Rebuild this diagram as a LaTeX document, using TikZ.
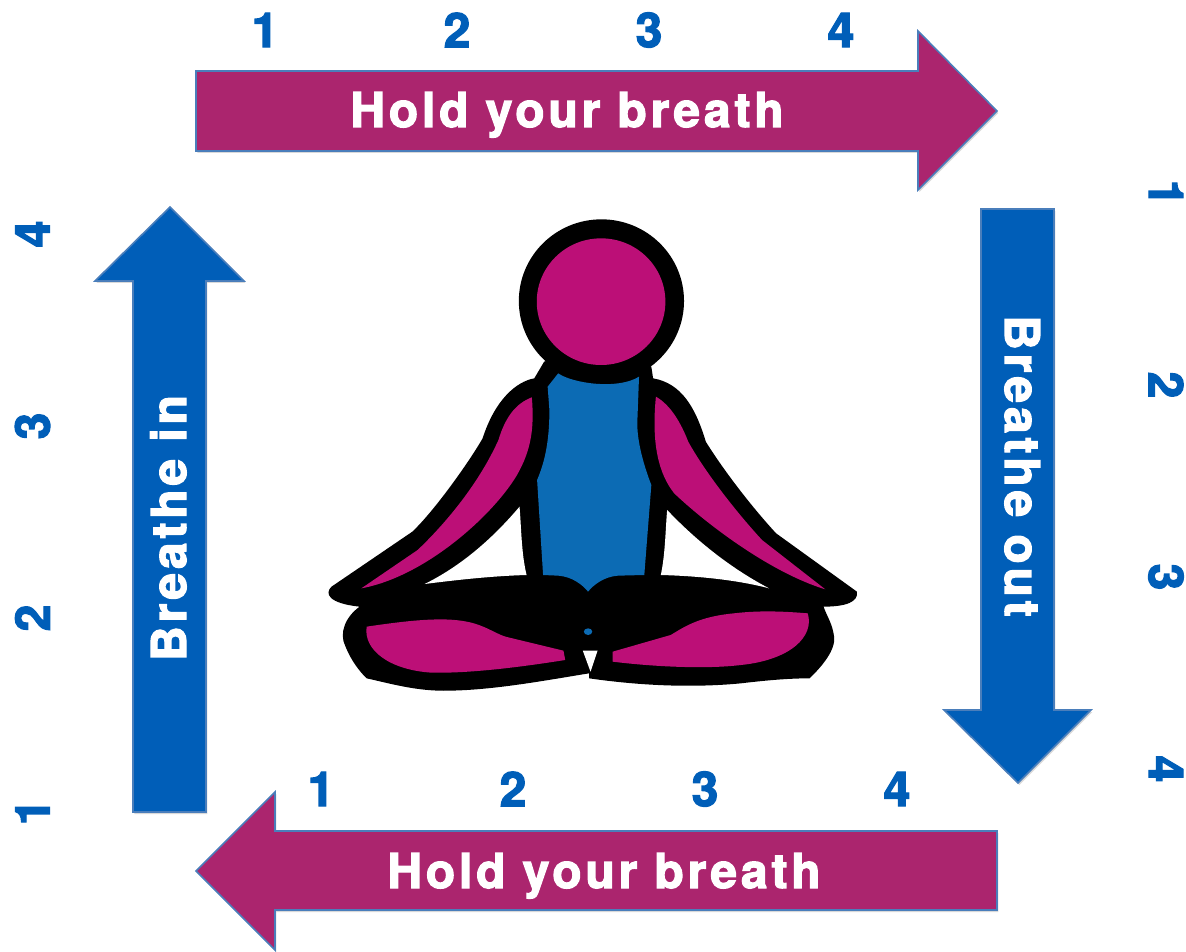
\documentclass[tikz,border=0pt]{standalone}
\usepackage{fontspec}
\setsansfont{TeX Gyre Heros}[LetterSpace=8, FakeBold=2.5]
\usetikzlibrary{shadows}
\definecolor{holdcol}{HTML}{AB256E}
\definecolor{breathecol}{HTML}{005EB8}
\definecolor{edgecol}{HTML}{4A7EBB}
\definecolor{limbcol}{HTML}{BC0F77}
\definecolor{torsocol}{HTML}{0C6BB4}
\tikzset{
  holdarrow/.style={fill=holdcol, draw=edgecol, line width=1.2pt, drop shadow={opacity=0.3, shadow xshift=1pt, shadow yshift=-1.5pt}},
  breathearrow/.style={holdarrow, fill=breathecol},
  arrowtext/.style={text=white, font=\sffamily\bfseries\fontsize{36}{36}\selectfont, inner sep=0pt, anchor=base},
  countnum/.style={text=breathecol, font=\sffamily\bfseries\fontsize{36}{36}\selectfont, inner sep=0pt},
  limb/.style={fill=limbcol},
  gap/.style={fill=white},
}
\begin{document}
\begin{tikzpicture}[x=0.75pt, y=-0.75pt]
    \useasboundingbox (0,0) rectangle (1186,952);

    % arrows
    \draw[holdarrow] (196,71) -- (918,71) -- (918,31) -- (997,111) -- (918,190) -- (918,151) -- (196,151) -- cycle;
    \draw[breathearrow] (981,209) -- (1054,209) -- (1054,710) -- (1091,710) -- (1018,783) -- (944,710) -- (981,710) -- cycle;
    \draw[holdarrow] (997,831) -- (997,910) -- (275,910) -- (275,950) -- (196,871) -- (275,792) -- (275,831) -- cycle;
    \draw[breathearrow] (133,812) -- (133,281) -- (95,281) -- (170,207) -- (244,281) -- (206,281) -- (206,812) -- cycle;

    \node[arrowtext] (holdtop) at (567,127) {Hold your breath};
    \node[arrowtext] (holdbottom) at (604,888) {Hold your breath};
    \node[arrowtext, rotate=90] (breathein) at (186,528) {Breathe in};
    \node[arrowtext, rotate=-90] (breatheout) at (1005,466) {Breathe out};

    % counts
    \node[countnum] (topa) at (265,30) {1};
    \node[countnum] (topb) at (457,30) {2};
    \node[countnum] (topc) at (649,30) {3};
    \node[countnum] (topd) at (841,30) {4};
    \node[countnum] (bota) at (321,789) {1};
    \node[countnum] (botb) at (513,789) {2};
    \node[countnum] (botc) at (705,789) {3};
    \node[countnum] (botd) at (897,789) {4};
    \node[countnum, rotate=-90] (righta) at (1166,193) {1};
    \node[countnum, rotate=-90] (rightb) at (1166,385) {2};
    \node[countnum, rotate=-90] (rightc) at (1166,577) {3};
    \node[countnum, rotate=-90] (rightd) at (1166,769) {4};
    \node[countnum, rotate=90] (leftd) at (32.5,234) {4};
    \node[countnum, rotate=90] (leftc) at (32.5,426) {3};
    \node[countnum, rotate=90] (leftb) at (32.5,618) {2};
    \begin{scope}
        \clip (0,700) rectangle (100,822);
        \node[countnum, rotate=90] (lefta) at (32.5,812) {1};
    \end{scope}

    % seated figure
    \begin{scope}[shift={(319.2,210)}, x=0.2636pt, y=-0.25pt]
        \fill[black] (803,273) ellipse [x radius=235, y radius=245];
        \fill[black] (640,455) -- (612,505) .. controls (560,515) and (500,570) .. (465,685) .. controls (430,750) and (330,900) .. (265,965) -- (35,1130) .. controls (15,1150) and (25,1180) .. (115,1190) .. controls (75,1220) and (55,1270) .. (75,1310) .. controls (90,1350) and (115,1385) .. (135,1405) .. controls (200,1420) and (280,1445) .. (370,1442) .. controls (500,1440) and (650,1410) .. (768,1390) -- (768,1405) .. controls (900,1425) and (1050,1435) .. (1200,1420) .. controls (1280,1410) and (1340,1405) .. (1395,1405) .. controls (1430,1370) and (1470,1320) .. (1465,1280) .. controls (1460,1240) and (1445,1220) .. (1435,1190) .. controls (1500,1190) and (1535,1175) .. (1530,1145) -- (1300,970) .. controls (1230,890) and (1150,780) .. (1100,695) .. controls (1070,590) and (1030,520) .. (950,505) -- (945,470) -- (800,400) -- cycle;
        % gaps
        \fill[gap] (570,890) .. controls (575,950) and (575,1030) .. (590,1095) .. controls (490,1098) and (390,1110) .. (300,1122) .. controls (400,1070) and (490,990) .. (570,890) -- cycle;
        \fill[gap] (990,900) .. controls (985,960) and (985,1030) .. (972,1095) .. controls (1080,1098) and (1190,1110) .. (1280,1135) .. controls (1180,1080) and (1080,1000) .. (990,900) -- cycle;
        \fill[gap] (750,1322) -- (792,1322) -- (772,1385) -- cycle;
        % head
        \fill[limb] (802,275) ellipse [x radius=183, y radius=190];
        % arms
        \fill[limb] (605,562) .. controls (612,650) and (605,720) .. (560,800) .. controls (490,920) and (300,1100) .. (120,1135) -- (280,1020) .. controls (350,950) and (450,830) .. (510,690) .. controls (530,620) and (560,580) .. (605,562) -- cycle;
        \fill[limb] (958,560) .. controls (1000,585) and (1030,640) .. (1050,695) .. controls (1100,790) and (1190,910) .. (1260,990) -- (1440,1138) .. controls (1290,1090) and (1110,950) .. (1010,850) .. controls (965,790) and (945,700) .. (958,560) -- cycle;
        % legs
        \fill[limb] (135,1250) .. controls (250,1232) and (350,1220) .. (420,1235) .. controls (470,1245) and (500,1270) .. (530,1280) -- (695,1322) -- (700,1350) .. controls (550,1375) and (420,1390) .. (320,1388) .. controls (200,1380) and (125,1320) .. (135,1250) -- cycle;
        \fill[limb] (835,1325) -- (1000,1275) .. controls (1040,1250) and (1080,1220) .. (1180,1210) .. controls (1260,1200) and (1330,1205) .. (1390,1210) .. controls (1410,1280) and (1340,1350) .. (1200,1365) .. controls (1100,1378) and (950,1370) .. (835,1355) -- cycle;
        % torso
        \fill[torsocol] (680,490) .. controls (720,520) and (850,540) .. (910,500) -- (905,640) .. controls (905,700) and (925,770) .. (945,825) -- (925,1095) -- (850,1097) .. controls (810,1100) and (780,1125) .. (765,1145) .. controls (750,1125) and (720,1100) .. (680,1097) -- (637,1095) -- (620,810) .. controls (640,760) and (655,700) .. (655,600) -- (650,530) -- cycle;
        \fill[torsocol] (765,1265) ellipse [x radius=12, y radius=10];
    \end{scope}
\end{tikzpicture}
\end{document}
